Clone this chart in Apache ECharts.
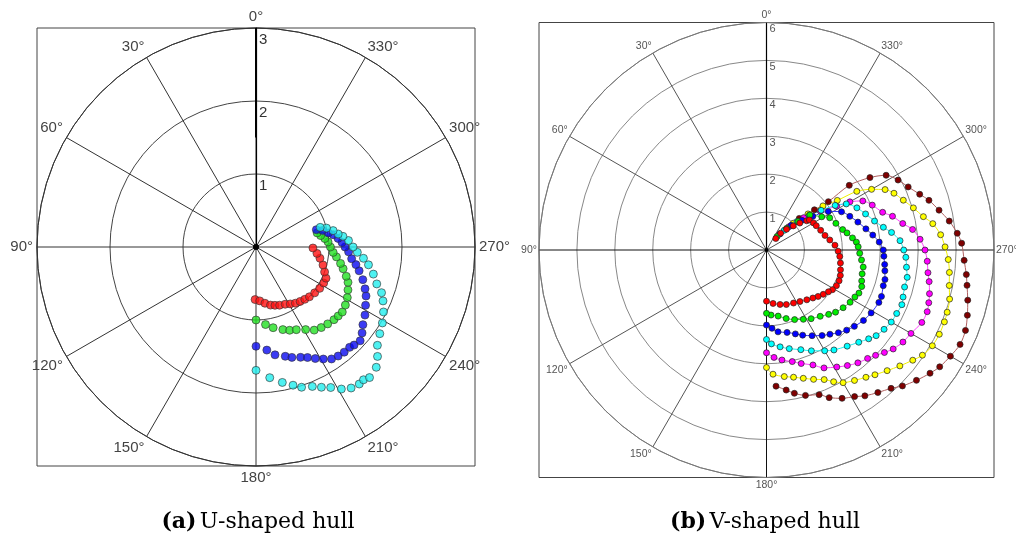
<!DOCTYPE html>
<html><head><meta charset="utf-8">
<script src="https://cdn.jsdelivr.net/npm/echarts@6/dist/echarts.min.js"></script>
<style>html,body{margin:0;padding:0;background:#fff}#c{width:1016px;height:539px}</style>
</head><body><div id="c"></div>
<script>
// ---- tick labels ----
const angleTicks = [0,30,60,90,120,150,180,210,240,270,300,330];
const leftRadiusTicks = [1,2,3];
const rightRadiusTicks = [1,2,3,4,5,6];
const captions = ['(a)|U-shaped hull', '(b)|V-shaped hull'];

// ---- (a) U-shaped hull : [radius, angle(deg)] ----
const leftRed = [[0.72,179],[0.74,184],[0.78,189],[0.82,194],[0.84,198],[0.86,202],[0.88,207],[0.91,211],[0.94,215],[0.96,219],[0.98,223],[1.0,227],[1.02,232],[1.04,237],[1.05,242],[1.05,246],[1.0,250],[0.95,255],[0.89,260],[0.84,264],[0.78,269]];
const leftGreen = [[1.0,180],[1.07,187],[1.13,192],[1.19,198],[1.23,202],[1.26,206],[1.32,211],[1.39,215],[1.42,219],[1.44,223],[1.46,227],[1.47,230],[1.48,233],[1.46,237],[1.43,241],[1.39,245],[1.35,249],[1.3,252],[1.23,256],[1.18,259],[1.11,263],[1.06,266],[1.02,270],[0.99,274],[0.95,277],[0.9,280],[0.86,283]];
const leftBlue = [[1.36,180],[1.42,186],[1.5,190],[1.55,195],[1.59,198],[1.63,202],[1.67,205],[1.73,208],[1.79,211],[1.85,214],[1.87,217],[1.88,220],[1.88,223],[1.9,225],[1.92,228],[1.87,231],[1.81,234],[1.76,238],[1.7,242],[1.65,246],[1.6,249],[1.53,253],[1.45,257],[1.39,260],[1.32,263],[1.27,267],[1.22,270],[1.18,273],[1.13,276],[1.07,279],[1.01,281],[0.94,284],[0.86,286]];
const leftCyan = [[1.69,180],[1.8,186],[1.89,191],[1.96,195],[2.02,198],[2.06,202],[2.12,205],[2.18,208],[2.27,211],[2.33,214],[2.35,217],[2.34,219],[2.37,221],[2.33,225],[2.24,228],[2.14,231],[2.07,235],[2.02,239],[1.96,243],[1.89,247],[1.83,250],[1.73,253],[1.65,257],[1.56,261],[1.48,264],[1.39,267],[1.33,270],[1.27,274],[1.2,277],[1.14,279],[1.08,282],[1.0,285],[0.92,287]];

// ---- (b) V-shaped hull : [radius, angle(deg)] ----
const rightRed = [[0.39,321],[0.58,320],[0.76,316],[0.95,312],[1.13,309],[1.31,306],[1.38,305],[1.43,300],[1.46,296],[1.52,290],[1.59,284],[1.69,279],[1.81,274],[1.89,269],[1.94,265],[1.98,260],[2.02,255],[2.06,251],[2.08,247],[2.07,243],[2.03,239],[1.97,236],[1.9,232],[1.83,228],[1.76,224],[1.69,219],[1.62,213],[1.57,207],[1.53,200],[1.48,194],[1.42,187],[1.35,180]];
const rightGreen = [[0.45,322],[0.78,317],[1.12,312],[1.47,309],[1.7,301],[1.87,297],[1.96,291],[2.08,285],[2.17,282],[2.29,278],[2.38,275],[2.42,272],[2.46,268],[2.52,264],[2.59,260],[2.6,256],[2.64,252],[2.69,249],[2.69,245],[2.64,242],[2.6,238],[2.53,233],[2.45,228],[2.36,224],[2.25,219],[2.16,213],[2.07,208],[1.98,202],[1.88,196],[1.77,190],[1.72,184],[1.67,180]];
const rightBlue = [[0.55,320],[0.92,315],[1.22,310],[1.51,306],[1.92,302],[2.22,297],[2.37,292],[2.52,287],[2.68,282],[2.83,278],[2.98,274],[3.08,270],[3.1,267],[3.14,263],[3.17,260],[3.22,256],[3.22,253],[3.27,248],[3.27,245],[3.22,239],[3.16,234],[3.07,229],[2.99,225],[2.89,221],[2.78,217],[2.69,213],[2.56,208],[2.44,203],[2.34,199],[2.24,194],[2.18,188],[2.07,184],[1.98,180]];
const rightCyan = [[0.7,318],[1.1,313],[1.45,309],[1.78,306],[2.16,303],[2.43,300],[2.63,295],[2.78,290],[2.95,285],[3.14,281],[3.33,278],[3.53,274],[3.62,270],[3.68,267],[3.72,263],[3.78,259],[3.77,255],[3.81,251],[3.85,248],[3.82,244],[3.8,240],[3.74,236],[3.67,232],[3.57,229],[3.44,225],[3.31,220],[3.18,214],[3.07,210],[2.91,204],[2.78,199],[2.67,193],[2.58,188],[2.48,183],[2.36,180]];
const rightMagenta = [[0.85,316],[1.3,311],[1.75,306],[2.18,302],[2.54,300],[2.85,297],[3.03,293],[3.22,288],[3.44,285],[3.66,281],[3.89,278],[4.06,274],[4.18,270],[4.25,266],[4.3,262],[4.37,259],[4.45,255],[4.5,252],[4.54,249],[4.52,245],[4.4,240],[4.34,236],[4.24,232],[4.12,229],[4.0,226],[3.91,223],[3.83,219],[3.72,215],[3.6,211],[3.46,206],[3.27,202],[3.13,197],[3.02,193],[2.93,188],[2.84,184],[2.71,180]];
const rightYellow = [[1.0,315],[1.45,311],[1.89,308],[2.28,305],[2.84,303],[3.2,300],[3.51,297],[3.68,294],[3.84,290],[4.03,286],[4.23,282],[4.44,279],[4.61,275],[4.71,271],[4.8,267],[4.86,263],[4.91,259],[5.0,255],[5.04,251],[5.06,248],[5.07,244],[5.05,240],[4.96,236],[4.83,233],[4.66,229],[4.5,225],[4.36,221],[4.26,218],[4.15,214],[4.04,210],[3.9,207],[3.74,204],[3.63,200],[3.52,196],[3.43,192],[3.37,188],[3.28,183],[3.1,180]];
const rightMaroon = [[1.2,314],[1.65,310],[2.07,308],[2.77,308],[3.33,305],[3.72,302],[3.93,298],[4.09,294],[4.3,290],[4.48,287],[4.67,283],[4.88,279],[5.05,275],[5.15,272],[5.22,267],[5.31,263],[5.37,260],[5.47,256],[5.57,252],[5.66,248],[5.68,244],[5.6,240],[5.51,236],[5.4,233],[5.24,229],[5.07,225],[4.91,222],[4.77,218],[4.64,214],[4.51,211],[4.39,207],[4.23,203],[4.06,200],[3.97,195],[3.85,191],[3.73,188],[3.6,184]];

// ---- layout ----
const L = {cx: 256, cy: 247, r: 219};
const R = {cx: 766.5, cy: 250, r: 227.5};
const FONT = 'Liberation Sans, Arial, sans-serif';
const deg = v => (angleTicks.includes(v) ? v + '°' : '');

function angleAxis(pi, spokeColors, circleColor, fs, margin, lblColor) {
  return {polarIndex: pi, type: 'value', min: 0, max: 360, interval: 30, startAngle: 90, clockwise: false,
    axisLine: {show: true, lineStyle: {color: circleColor, width: 1}},
    axisTick: {show: false},
    splitLine: {show: true, lineStyle: {color: spokeColors, width: 1}},
    axisLabel: {margin: margin, fontSize: fs, fontFamily: FONT, color: lblColor, formatter: deg}};
}
function radiusAxis(pi, max, ticks, circleColor, fs, lh, lblColor) {
  return {polarIndex: pi, type: 'value', min: 0, max: max, interval: 1,
    axisLine: {show: true, lineStyle: {color: '#000', width: 1.2}},
    axisTick: {show: false},
    splitLine: {show: true, lineStyle: {color: circleColor, width: 1}},
    axisLabel: {margin: -3, align: 'left', verticalAlign: 'top', lineHeight: lh,
      fontSize: fs, fontFamily: FONT, color: lblColor,
      formatter: v => (ticks.includes(v) ? String(v) : '')}};
}

const leftSeries = [
  ['#ff1010', leftRed], ['#22e022', leftGreen], ['#0a0af0', leftBlue], ['#22eeee', leftCyan]
].map(([c, d]) => ({type: 'scatter', coordinateSystem: 'polar', polarIndex: 0, data: d,
  symbol: 'circle', symbolSize: 8, itemStyle: {color: c, borderColor: '#333', borderWidth: 0.8}}));

const rightSeries = [
  ['#800000', '#b06060', rightMaroon], ['#ffff00', '#f0f000', rightYellow], ['#ff00ff', '#ff40ff', rightMagenta],
  ['#00ffff', '#20f0f0', rightCyan], ['#0000ff', '#3030ff', rightBlue], ['#00ee00', '#30e030', rightGreen],
  ['#ff0000', '#ff5050', rightRed]
].map(([c, lc, d]) => ({type: 'line', coordinateSystem: 'polar', polarIndex: 1, data: d,
  symbol: 'circle', symbolSize: 6, showSymbol: true, smooth: 0.3,
  lineStyle: {color: lc, width: 1}, itemStyle: {color: c, borderColor: '#222', borderWidth: 0.7}}));

const chart = echarts.init(document.getElementById('c'));
chart.setOption({
  animation: false,
  backgroundColor: '#fff',
  polar: [{center: [L.cx, L.cy], radius: L.r}, {center: [R.cx, R.cy], radius: R.r}],
  angleAxis: [
    angleAxis(0, '#333', '#333', 15, 4, '#444'),
    angleAxis(1, ['#111', '#555', '#555'], '#777', 10.5, 2, '#555')
  ],
  radiusAxis: [
    radiusAxis(0, 3, leftRadiusTicks, '#444', 15, 24, '#333'),
    radiusAxis(1, 6, rightRadiusTicks, '#888', 11, 13, '#555')
  ],
  series: [...leftSeries, ...rightSeries],
  graphic: {elements: [
    {type: 'rect', shape: {x: L.cx - L.r, y: L.cy - L.r, width: 2 * L.r, height: 2 * L.r},
     style: {fill: 'none', stroke: '#444', lineWidth: 1}, z: 0},
    {type: 'rect', shape: {x: R.cx - R.r, y: R.cy - R.r, width: 2 * R.r, height: 2 * R.r},
     style: {fill: 'none', stroke: '#444', lineWidth: 1}, z: 0},
    {type: 'line', shape: {x1: L.cx, y1: L.cy - L.r, x2: L.cx, y2: L.cy - L.r / 2},
     style: {stroke: '#000', lineWidth: 2}, z: 10},
    {type: 'circle', shape: {cx: L.cx, cy: L.cy, r: 3}, style: {fill: '#000'}, z: 10},
    {type: 'circle', shape: {cx: R.cx, cy: R.cy, r: 2}, style: {fill: '#000'}, z: 10},
    ...captions.map((t, i) => {
      const [a, b] = t.split('|');
      return {type: 'text', x: i === 0 ? 258 : 765, y: 522, z: 10,
        style: {text: '{b|' + a + '} {n|' + b + '}', align: 'center', verticalAlign: 'middle',
          rich: {b: {fontFamily: 'DejaVu Serif', fontWeight: 'bold', fontSize: 22, fill: '#000'},
                 n: {fontFamily: 'DejaVu Serif', fontSize: 22, fill: '#000'}}}};
    })
  ]}
});
</script>
</body></html>
